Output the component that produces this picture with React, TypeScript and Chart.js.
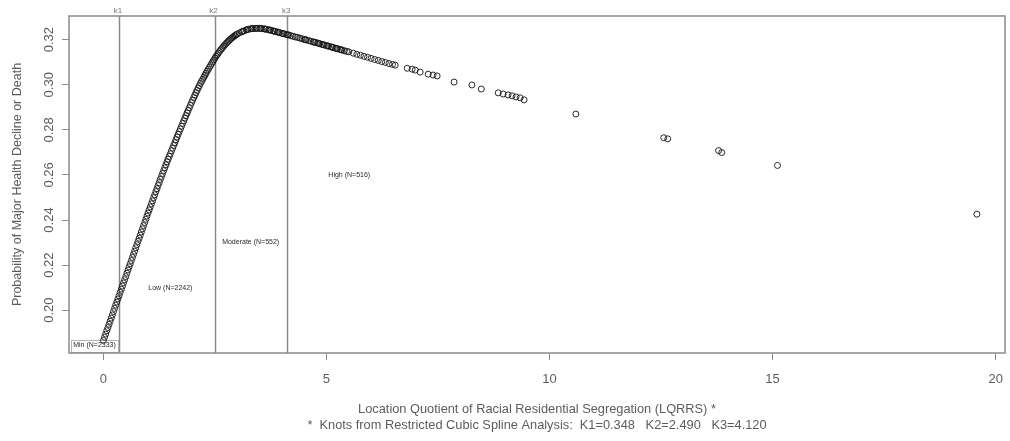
import React, { useEffect, useRef } from "react";
import { Chart, registerables } from "chart.js";

Chart.register(...registerables);

// LQRRS values (x) of the plotted observations
const lqrrs = [
  0.0, 0.05, 0.1, 0.15, 0.2, 0.25, 0.3, 0.35, 0.4, 0.45,
  0.5, 0.55, 0.6, 0.65, 0.7, 0.75, 0.8, 0.85, 0.9, 0.95,
  1.0, 1.05, 1.1, 1.15, 1.2, 1.25, 1.3, 1.35, 1.4, 1.45,
  1.5, 1.55, 1.6, 1.65, 1.7, 1.75, 1.8, 1.85, 1.9, 1.95,
  2.0, 2.05, 2.1, 2.15, 2.2, 2.25, 2.3, 2.35, 2.4, 2.45,
  2.5, 2.55, 2.6, 2.65, 2.7, 2.75, 2.8, 2.85, 2.9, 2.95,
  3.0, 3.05, 3.1, 3.15, 3.2, 3.25, 3.3, 3.35, 3.4, 3.45,
  3.5, 3.55, 3.6, 3.65, 3.7, 3.75, 3.8, 3.85, 3.9, 3.95,
  4.0, 4.05, 4.1, 4.15, 4.2, 4.25, 4.3, 4.35, 4.4, 4.45,
  4.5, 4.55, 4.6, 4.65, 4.7, 4.75, 4.8, 4.85, 4.9, 4.95,
  5.0, 5.05, 5.1, 5.15, 5.2, 5.25, 5.3, 5.35, 5.4, 5.45,
  5.5, 5.6, 5.68, 5.76, 5.84, 5.92, 6.0, 6.08, 6.16, 6.24,
  6.32, 6.4, 6.48, 6.54, 6.81, 6.92, 6.99, 7.1, 7.28, 7.39,
  7.48, 7.86, 8.26, 8.47, 8.85, 8.96, 9.07, 9.16, 9.25, 9.34,
  9.43, 10.59, 12.56, 12.65, 13.79, 13.86, 15.11, 19.58,
  // further observations packed along the dense part of the curve
  0.025, 0.075, 0.125, 0.175, 0.225, 0.275, 0.325, 0.375, 0.425, 0.475,
  0.525, 0.575, 0.625, 0.675, 0.725, 0.775, 0.825, 0.875, 0.925, 0.975,
  1.025, 1.075, 1.125, 1.175, 1.225, 1.275, 1.325, 1.375, 1.425, 1.475,
  1.525, 1.575, 1.625, 1.675, 1.725, 1.775, 1.825, 1.875, 1.925, 1.975,
  2.025, 2.075, 2.125, 2.175, 2.225, 2.275, 2.325, 2.375, 2.425, 2.475,
  2.525, 2.575, 2.625, 2.675, 2.725, 2.775, 2.825, 2.875, 2.925, 2.975,
  3.125, 3.225, 3.325, 3.425, 3.525, 3.625, 3.725, 3.825, 3.925, 4.025,
  4.125, 4.525, 4.725, 4.825, 4.925, 5.025, 5.125, 5.225, 5.325,
];

// Predicted probability of major health decline or death (y)
const probability = [
  0.1866, 0.1894, 0.1923, 0.1951, 0.1979, 0.2008, 0.2036, 0.2064, 0.2093, 0.2121,
  0.2149, 0.2178, 0.2206, 0.2234, 0.2262, 0.2291, 0.2319, 0.2347, 0.2375, 0.2403,
  0.2431, 0.2458, 0.2485, 0.2512, 0.2539, 0.2566, 0.2593, 0.2619, 0.2645, 0.267,
  0.2694, 0.2719, 0.2743, 0.2768, 0.2792, 0.2816, 0.284, 0.2863, 0.2886, 0.2909,
  0.2932, 0.2954, 0.2975, 0.2996, 0.3015, 0.3033, 0.3051, 0.3068, 0.3085, 0.3102,
  0.3118, 0.3133, 0.3147, 0.316, 0.3172, 0.3183, 0.3193, 0.3203, 0.3211, 0.3218,
  0.3225, 0.323, 0.3235, 0.3239, 0.3243, 0.3246, 0.3248, 0.3249, 0.325, 0.325,
  0.325, 0.3249, 0.3248, 0.3246, 0.3244, 0.3242, 0.3239, 0.3236, 0.3234, 0.3231,
  0.3228, 0.3226, 0.3223, 0.3221, 0.3218, 0.3215, 0.3212, 0.321, 0.3207, 0.3204,
  0.3201, 0.3199, 0.3196, 0.3193, 0.319, 0.3188, 0.3185, 0.3182, 0.3179, 0.3176,
  0.3174, 0.3171, 0.3168, 0.3165, 0.3162, 0.316, 0.3157, 0.3154, 0.3151, 0.3148,
  0.3146, 0.314, 0.3135, 0.3131, 0.3126, 0.3122, 0.3117, 0.3112, 0.3108, 0.3103,
  0.3099, 0.3094, 0.309, 0.3087, 0.3073, 0.3069, 0.3065, 0.3056, 0.3047, 0.3043,
  0.3039, 0.3012, 0.2999, 0.2981, 0.2964, 0.2959, 0.2955, 0.2951, 0.2946, 0.2942,
  0.2933, 0.287, 0.2765, 0.276, 0.2708, 0.2699, 0.2642, 0.2426,
  0.188, 0.1909, 0.1937, 0.1965, 0.1994, 0.2022, 0.205, 0.2079, 0.2107, 0.2135,
  0.2164, 0.2192, 0.222, 0.2248, 0.2277, 0.2305, 0.2333, 0.2361, 0.2389, 0.2417,
  0.2445, 0.2472, 0.2499, 0.2526, 0.2553, 0.258, 0.2606, 0.2632, 0.2658, 0.2682,
  0.2707, 0.2731, 0.2756, 0.278, 0.2804, 0.2828, 0.2852, 0.2875, 0.2898, 0.2921,
  0.2943, 0.2965, 0.2986, 0.3006, 0.3024, 0.3042, 0.306, 0.3077, 0.3094, 0.311,
  0.3126, 0.314, 0.3154, 0.3166, 0.3178, 0.3188, 0.3198, 0.3207, 0.3215, 0.3222,
  0.3237, 0.3245, 0.3249, 0.325, 0.325, 0.3247, 0.3243, 0.3238, 0.3233, 0.3227,
  0.3222, 0.32, 0.3189, 0.3184, 0.3178, 0.3172, 0.3167, 0.3161, 0.3155,
];

const xTicks = [0, 5, 10, 15, 20];
const yTicks = [0.2, 0.22, 0.24, 0.26, 0.28, 0.3, 0.32];

const knotNames = ["k1", "k2", "k3"];
const knotValues = [0.348, 2.49, 4.12];

const groupLabels = ["Min (N=2333)", "Low (N=2242)", "Moderate (N=552)", "High (N=516)"];
const groupLabelX = [-0.2, 1.5, 3.3, 5.51];
const groupLabelY = [0.1843, 0.2098, 0.2301, 0.2598];

const xTitle = "Location Quotient of Racial Residential Segregation (LQRRS) *";
const xNote = "*  Knots from Restricted Cubic Spline Analysis:  K1=0.348   K2=2.490   K3=4.120";
const yTitle = "Probability of Major Health Decline or Death";

const FONT = "'Liberation Sans', Arial, Helvetica, sans-serif";
const AXIS_GREY = "#8a8a8a";
const TEXT_GREY = "#5c5c5c";
const POINT_COLOR = "rgba(20,20,20,0.9)";

const annotate = {
  id: "annotate",
  beforeDatasetsDraw(chart: any) {
    const { ctx, chartArea: a, scales } = chart;
    const x = scales.x;
    ctx.save();
    ctx.strokeStyle = AXIS_GREY;
    ctx.lineWidth = 1.5;
    knotValues.forEach((k) => {
      const px = Math.round(x.getPixelForValue(k)) + 0.5;
      ctx.beginPath();
      ctx.moveTo(px, a.top);
      ctx.lineTo(px, a.bottom);
      ctx.stroke();
    });
    // small frame round the "Min" label
    const k1 = x.getPixelForValue(knotValues[0]);
    ctx.strokeStyle = "#b5b5b5";
    ctx.lineWidth = 1;
    ctx.strokeRect(a.left + 2.5, a.bottom - 12.5, k1 - a.left - 3, 12);
    ctx.restore();
  },
  afterDraw(chart: any) {
    const { ctx, chartArea: a, scales } = chart;
    const x = scales.x;
    const y = scales.y;
    ctx.save();
    // plot frame
    ctx.strokeStyle = AXIS_GREY;
    ctx.lineWidth = 1.5;
    ctx.strokeRect(a.left, a.top, a.right - a.left, a.bottom - a.top);
    // knot names above the frame
    ctx.fillStyle = "#777";
    ctx.font = `8px ${FONT}`;
    ctx.textAlign = "center";
    ctx.textBaseline = "middle";
    knotValues.forEach((k, i) => {
      ctx.fillText(knotNames[i], x.getPixelForValue(k) - 1, a.top - 5);
    });
    // group labels
    ctx.fillStyle = "#2a2a2a";
    ctx.font = `7px ${FONT}`;
    groupLabels.forEach((t, i) => {
      ctx.fillText(t, x.getPixelForValue(groupLabelX[i]), y.getPixelForValue(groupLabelY[i]));
    });
    ctx.restore();
  },
};

export default function App() {
  const ref = useRef<HTMLCanvasElement | null>(null);

  useEffect(() => {
    if (!ref.current) return;
    const points = lqrrs.map((v, i) => ({ x: v, y: probability[i] }));
    const chart = new Chart(ref.current, {
      type: "scatter",
      data: {
        datasets: [
          {
            data: points,
            pointStyle: "circle",
            pointRadius: 3,
            pointBorderWidth: 1,
            borderColor: POINT_COLOR,
            backgroundColor: "rgba(0,0,0,0)",
            pointBackgroundColor: "rgba(0,0,0,0)",
            pointBorderColor: POINT_COLOR,
          },
        ],
      },
      options: {
        responsive: false,
        animation: false,
        events: [],
        layout: { padding: { top: 16, right: 3, left: 0, bottom: 0 } },
        plugins: { legend: { display: false }, tooltip: { enabled: false } },
        scales: {
          x: {
            type: "linear",
            min: -0.772,
            max: 20.21,
            afterBuildTicks: (s: any) => {
              s.ticks = xTicks.map((v) => ({ value: v }));
            },
            afterFit: (s: any) => {
              s.height = 88;
              s.paddingLeft = 0;
              s.paddingRight = 0;
            },
            grid: { drawOnChartArea: false, drawTicks: true, tickLength: 7, color: AXIS_GREY, lineWidth: 1 },
            border: { display: false },
            ticks: {
              color: TEXT_GREY,
              font: { family: FONT, size: 13 },
              padding: 12,
              maxRotation: 0,
              autoSkip: false,
              callback: (v: any) => String(v),
            },
            title: {
              display: true,
              text: [xTitle, xNote],
              color: TEXT_GREY,
              font: { family: FONT, size: 12.8, lineHeight: 1.27 },
              padding: { top: 0, bottom: 7 },
            },
          },
          y: {
            type: "linear",
            min: 0.181,
            max: 0.3305,
            afterBuildTicks: (s: any) => {
              s.ticks = yTicks.map((v) => ({ value: v }));
            },
            afterFit: (s: any) => {
              s.width = 69;
              s.paddingTop = 0;
              s.paddingBottom = 0;
            },
            grid: { drawOnChartArea: false, drawTicks: true, tickLength: 7, color: AXIS_GREY, lineWidth: 1 },
            border: { display: false },
            ticks: {
              color: TEXT_GREY,
              font: { family: FONT, size: 13 },
              minRotation: 90,
              maxRotation: 90,
              crossAlign: "center",
              padding: 0,
              autoSkip: false,
              callback: (v: any) => Number(v).toFixed(2),
            },
            title: {
              display: true,
              text: yTitle,
              color: TEXT_GREY,
              font: { family: FONT, size: 12.5 },
              padding: { top: 10, bottom: 0 },
            },
          },
        },
      },
      plugins: [annotate],
    } as any);
    return () => chart.destroy();
  }, []);

  return (
    <div style={{ position: "absolute", left: 0, top: 0, width: 1010, height: 441, background: "#fff" }}>
      <canvas ref={ref} width={1010} height={441} style={{ display: "block" }} />
    </div>
  );
}
